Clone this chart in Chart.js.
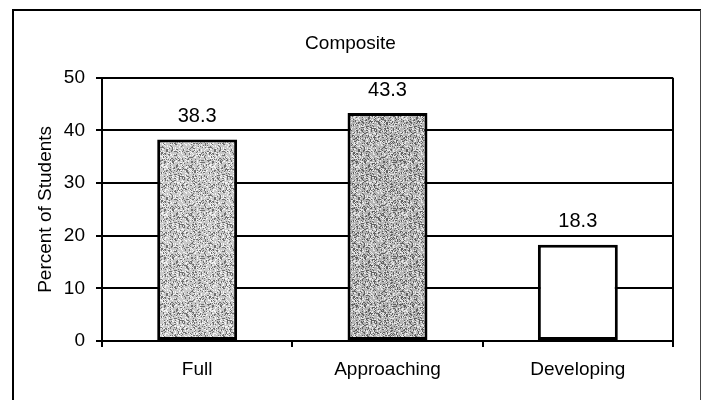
<!DOCTYPE html>
<html>
<head>
<meta charset="utf-8">
<script src="https://cdn.jsdelivr.net/npm/chart.js@4/dist/chart.umd.min.js"></script>
<style>
  html, body { margin: 0; padding: 0; background: #fff; }
  #wrap { position: relative; width: 704px; height: 400px; }
</style>
</head>
<body>
<div id="wrap"><canvas id="c" width="704" height="400"></canvas></div>
<script>
const categories = ["Full", "Approaching", "Developing"];
const percentValues = [38.3, 43.3, 18.3];
const yTicks = [0, 10, 20, 30, 40, 50];
const chartTitle = "Composite";
const yAxisTitle = "Percent of Students";

const FONT = 'Arial, "Liberation Sans", sans-serif';

// deterministic stipple texture (style only)
function stipple(base, dark, light, density) {
  const c = document.createElement('canvas');
  c.width = 48; c.height = 48;
  const g = c.getContext('2d');
  g.fillStyle = base; g.fillRect(0, 0, 48, 48);
  let s = 12345;
  function h() { s = (s * 1103515245 + 12345) & 0x7fffffff; return s / 0x7fffffff; }
  for (let y = 0; y < 48; y++) {
    for (let x = 0; x < 48; x++) {
      const r = h();
      if (r < density) { g.fillStyle = dark; g.fillRect(x, y, 1, 1); }
      else if (r > 1 - density) { g.fillStyle = light; g.fillRect(x, y, 1, 1); }
    }
  }
  return g.createPattern(c, 'repeat');
}

const ctx = document.getElementById('c').getContext('2d');
const fills = [
  stipple('#c8c8c8', '#707070', '#f4f4f4', 0.2),
  stipple('#b4b4b4', '#606060', '#e8e8e8', 0.22),
  '#ffffff'
];

const framePlugin = {
  id: 'frame',
  beforeDraw(chart) {
    const g = chart.ctx;
    g.save();
    g.fillStyle = '#fff';
    g.fillRect(0, 0, chart.width, chart.height);
    g.strokeStyle = '#000';
    g.lineWidth = 2;
    g.beginPath();
    g.moveTo(13, 402); g.lineTo(13, 10); g.lineTo(701, 10);
    g.stroke();
    g.strokeStyle = '#444';
    g.lineWidth = 1;
    g.beginPath();
    g.moveTo(700.5, 10); g.lineTo(700.5, 402);
    g.stroke();
    g.restore();
  },
  afterDraw(chart) {
    const a = chart.chartArea;
    const g = chart.ctx;
    g.save();
    g.strokeStyle = '#000';
    g.lineWidth = 2;
    g.beginPath();
    g.moveTo(a.right, a.top); g.lineTo(a.right, a.bottom + 6);
    g.stroke();
    g.restore();
  }
};

const valueLabels = {
  id: 'valueLabels',
  afterDatasetsDraw(chart) {
    const g = chart.ctx;
    const meta = chart.getDatasetMeta(0);
    g.save();
    g.font = '20px ' + FONT;
    g.fillStyle = '#000';
    g.textAlign = 'center';
    g.textBaseline = 'middle';
    meta.data.forEach((el, i) => {
      g.fillText(percentValues[i].toFixed(1), el.x, el.y - 23);
    });
    g.restore();
  }
};

new Chart(ctx, {
  type: 'bar',
  data: {
    labels: categories,
    datasets: [{
      data: percentValues,
      backgroundColor: fills,
      borderColor: '#000',
      borderWidth: 3,
      borderSkipped: false,
      barPercentage: 0.42,
      categoryPercentage: 1.0
    }]
  },
  options: {
    responsive: false,
    animation: false,
    devicePixelRatio: 1,
    layout: { padding: { left: 28, right: 31, top: 0, bottom: 0 } },
    plugins: {
      legend: { display: false },
      tooltip: { enabled: false },
      title: {
        display: true,
        text: chartTitle,
        color: '#000',
        font: { family: FONT, size: 19, weight: 'normal' },
        padding: { top: 32, bottom: 23 }
      }
    },
    scales: {
      x: {
        offset: true,
        grid: { display: true, drawOnChartArea: false, drawTicks: true, tickLength: 6, color: '#000', lineWidth: 2 },
        border: { display: true, color: '#000', width: 2 },
        ticks: { color: '#000', padding: 11, font: { family: FONT, size: 19 } },
        afterFit(s) { s.height = 59; }
      },
      y: {
        min: 0, max: 50,
        afterBuildTicks(s) { s.ticks = yTicks.map(v => ({ value: v })); },
        grid: { color: '#000', lineWidth: 2, tickLength: 6, drawTicks: true },
        border: { display: true, color: '#000', width: 2 },
        ticks: { color: '#000', padding: 11, font: { family: FONT, size: 19 } },
        title: {
          display: true, text: yAxisTitle, color: '#000',
          font: { family: FONT, size: 19 },
          padding: { top: 6, bottom: 0 }
        },
        afterFit(s) { s.width = 102 - 28; }
      }
    }
  },
  plugins: [framePlugin, valueLabels]
});
</script>
</body>
</html>
